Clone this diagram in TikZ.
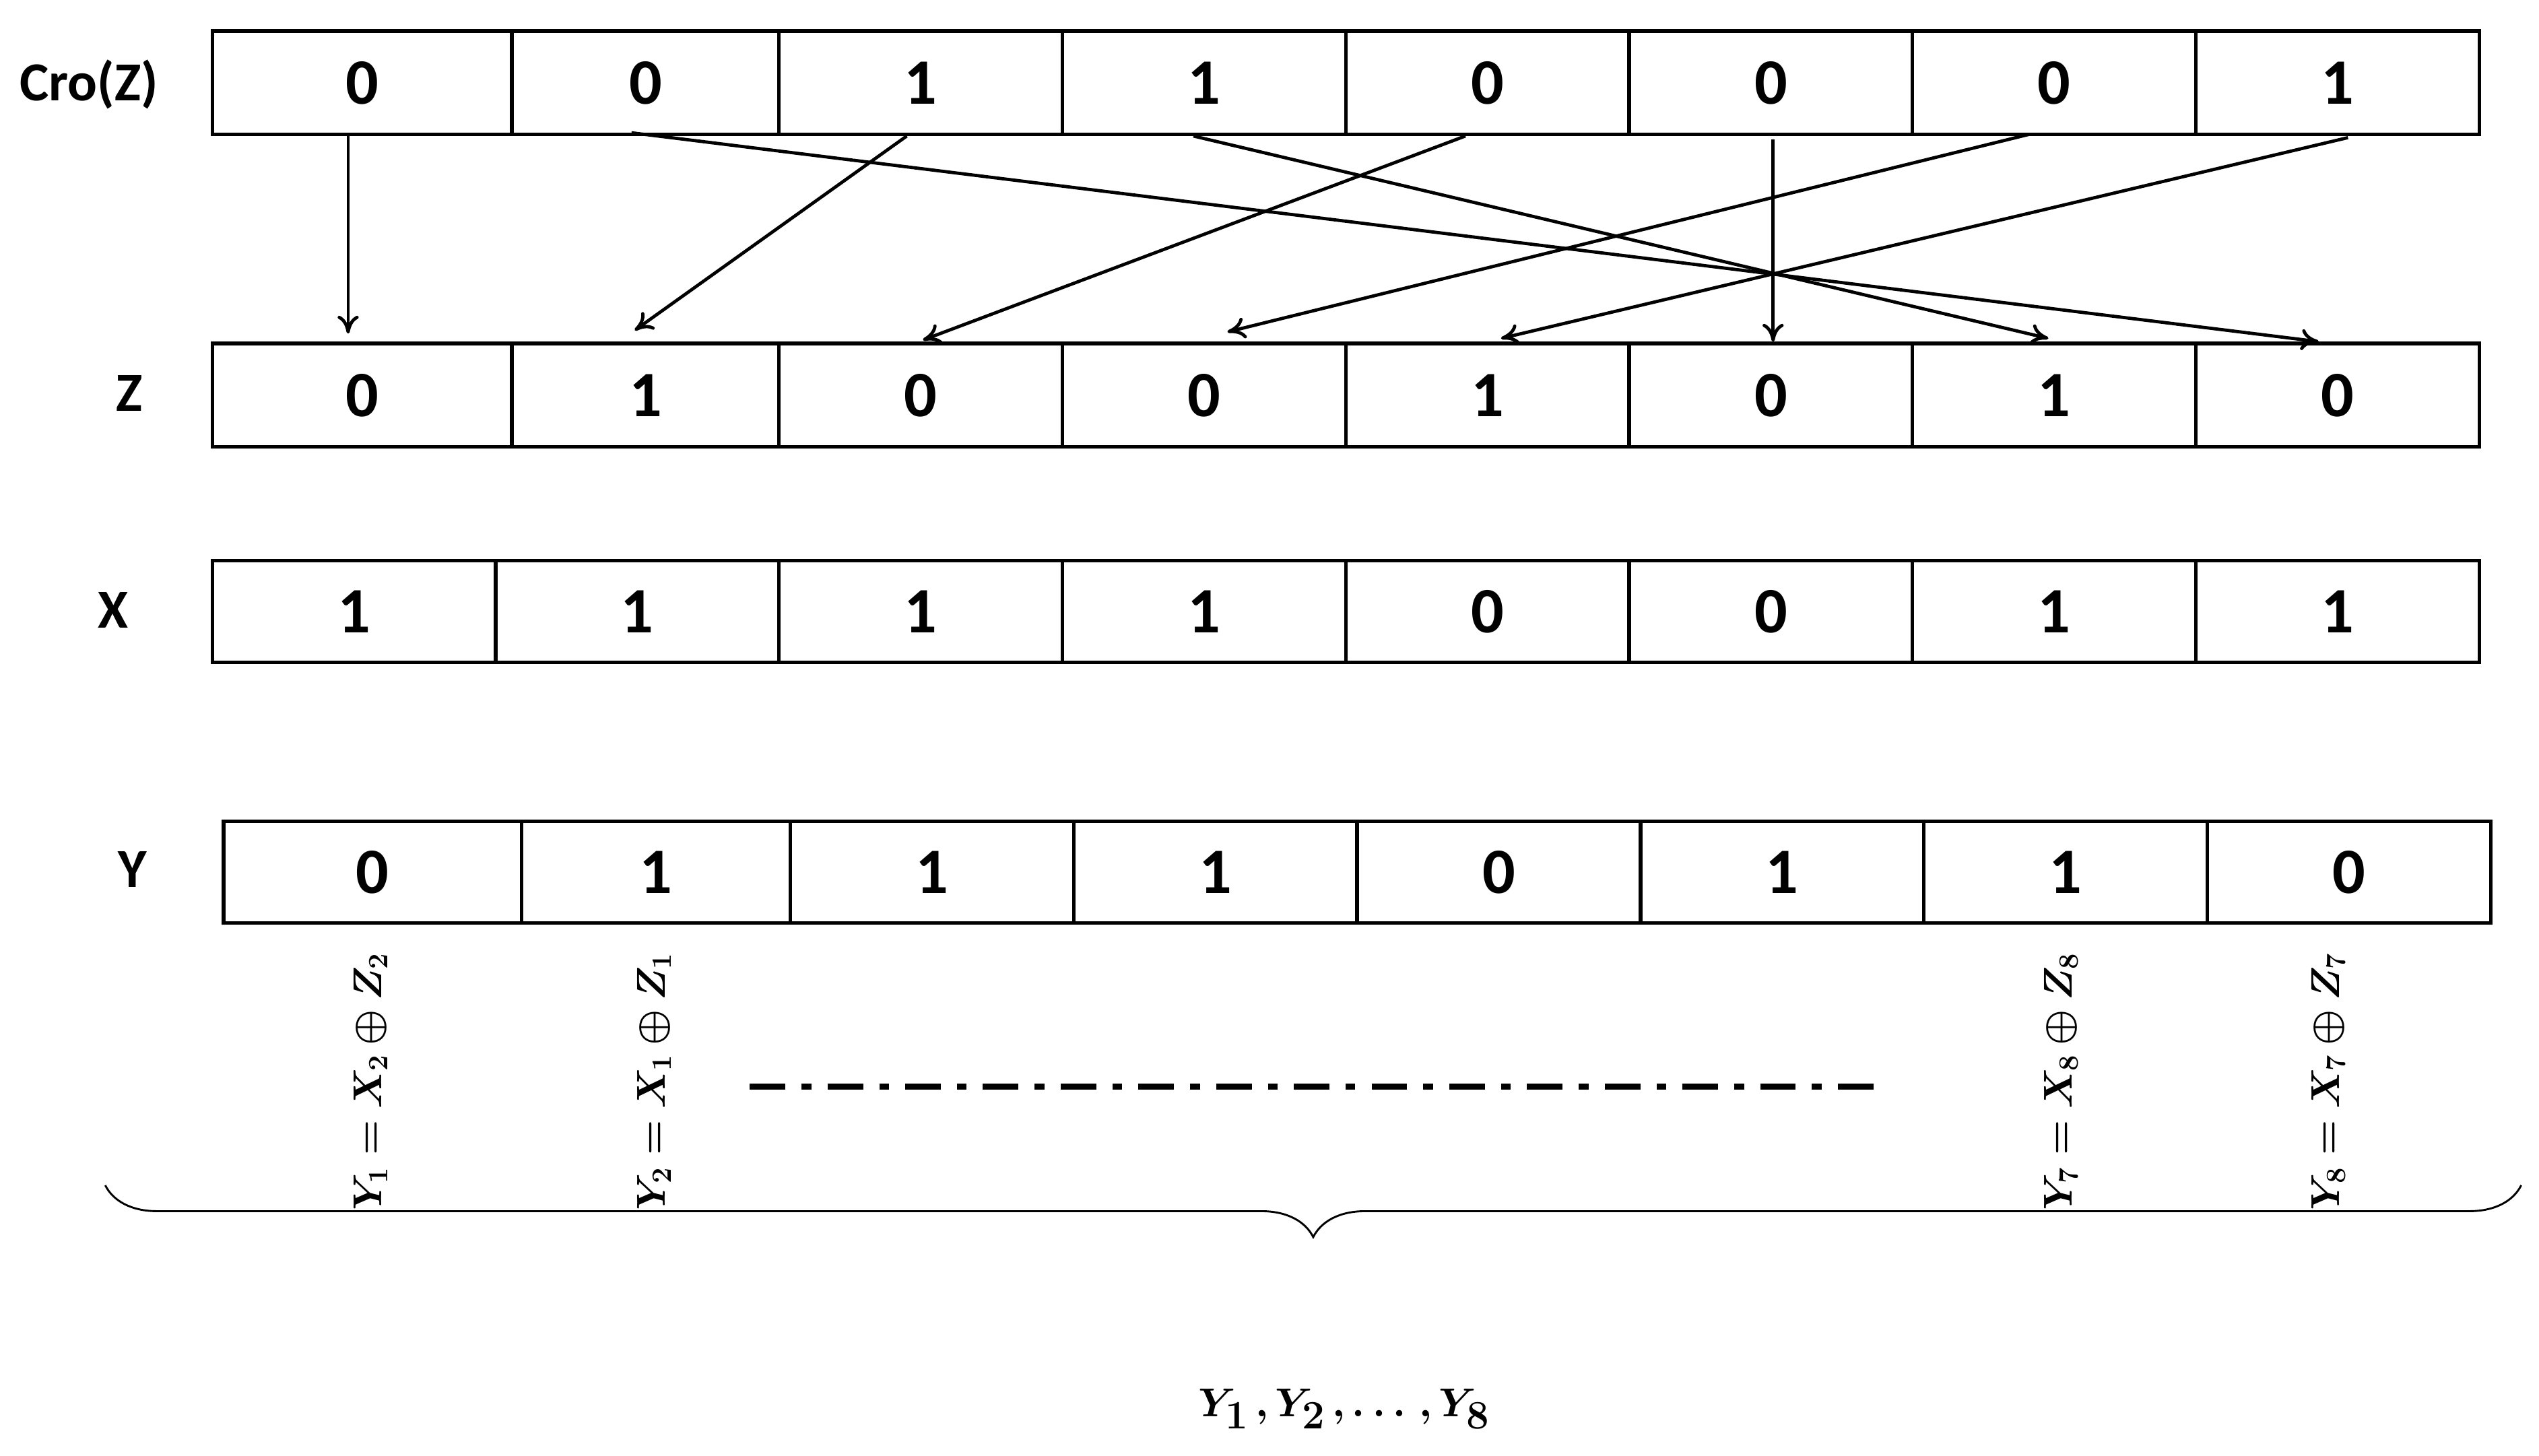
\documentclass[tikz,border=0pt]{standalone}
\usepackage{fontspec}
\usepackage{bm}
\setmainfont{Carlito}
\usetikzlibrary{decorations.pathreplacing,arrows.meta}
\begin{document}
\begin{tikzpicture}[x=1pt,y=-1pt,
  cell/.style={draw,line width=2.2pt,inner sep=0pt,anchor=north west,font=\fontsize{40}{40}\selectfont\bfseries},
  rowlab/.style={font=\fontsize{34}{34}\selectfont\bfseries},
  arr/.style={-{To[length=11pt,width=13pt]},line width=2pt},
  form/.style={rotate=90,font=\fontsize{25}{25}\selectfont}]
\useasboundingbox (0,0) rectangle (1568,899);
% rows
\def\mkrow#1#2#3#4#5{%
  \foreach \xa/\xb/\v [count=\i] in {#3} {
    \node[cell,minimum width={\xb-\xa},minimum height={#5-#4}] (#1\i) at (\xa,#4) {\v};
  }}
\mkrow{c}{}{130/315/0,315/480/0,480/655/1,655/830/1,830/1005/0,1005/1180/0,1180/1355/0,1355/1530/1}{18}{82}
\mkrow{z}{}{130/315/0,315/480/1,480/655/0,655/830/0,830/1005/1,1005/1180/0,1180/1355/1,1355/1530/0}{211}{275}
\mkrow{x}{}{130/305/1,305/480/1,480/655/1,655/830/1,830/1005/0,1005/1180/0,1180/1355/1,1355/1530/1}{345}{408}
\mkrow{y}{}{137/321/0,321/487/1,487/662/1,662/837/1,837/1012/0,1012/1187/1,1187/1362/1,1362/1537/0}{506}{569}
\node[rowlab] (lc) at (55,52) {Cro(Z)};
\node[rowlab] (lz) at (80,243) {Z};
\node[rowlab] (lx) at (70,377) {X};
\node[rowlab] (ly) at (82,537) {Y};
% arrows
\coordinate (s1) at (215,84); \coordinate (t1) at (215,206);
\coordinate (s2) at (390,82); \coordinate (t2) at (1432,211);
\coordinate (s3) at (560,84); \coordinate (t3) at (392,204);
\coordinate (s4) at (737,84); \coordinate (t4) at (1265,209);
\coordinate (s5) at (905,84); \coordinate (t5) at (570,210);
\coordinate (s6) at (1095,86); \coordinate (t6) at (1095,211);
\coordinate (s7) at (1253,83); \coordinate (t7) at (758,205);
\coordinate (s8) at (1450,85); \coordinate (t8) at (927,209);
\foreach \i in {1,...,8} \draw[arr] (s\i) -- (t\i);
% formulas
\node[form] (f1) at (229,668) {$\bm{Y_1 = X_2 \oplus Z_2}$};
\node[form] (f2) at (404,668) {$\bm{Y_2 = X_1 \oplus Z_1}$};
\node[form] (f7) at (1273,668) {$\bm{Y_7 = X_8 \oplus Z_8}$};
\node[form] (f8) at (1438,668) {$\bm{Y_8 = X_7 \oplus Z_7}$};
\coordinate (d1) at (463,671); \coordinate (d2) at (1158,671);
\draw[line width=3.5pt,dash pattern=on 22pt off 10pt on 6pt off 10pt] (d1) -- (d2);
\coordinate (b1) at (65,762); \coordinate (b2) at (1557,762);
\draw[line width=1.2pt,decorate,decoration={brace,mirror,amplitude=32pt,aspect=0.5}] ([yshift=30pt]b1) -- ([yshift=30pt]b2);
\node[font=\fontsize{44}{44}\selectfont] (tot) at (830,870) {$\bm{Y_1\,, Y_2\,, \ldots\,, Y_8}$};
\end{tikzpicture}
\end{document}
